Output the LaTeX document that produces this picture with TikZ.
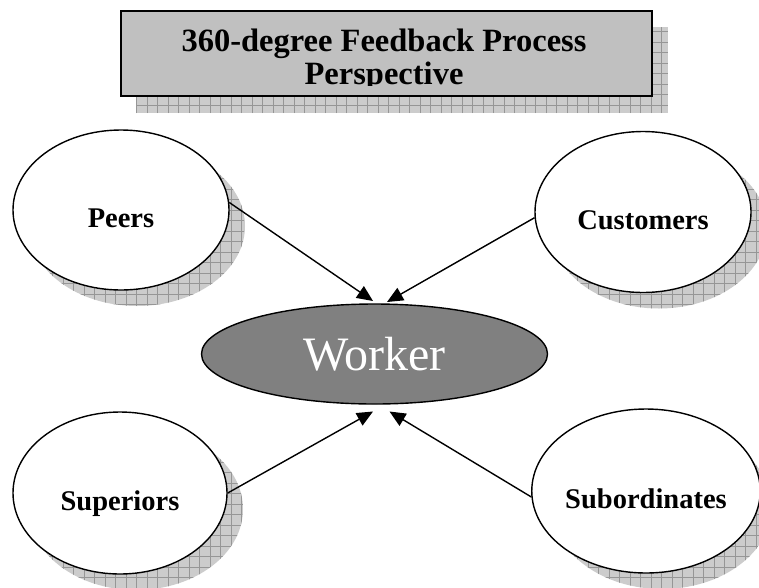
\documentclass[tikz,border=0pt]{standalone}
\usepackage{fontspec}
\setmainfont{Liberation Serif}
\usetikzlibrary{shapes.geometric,arrows.meta}
\definecolor{shadowfill}{RGB}{204,204,204}
\definecolor{gridcol}{RGB}{150,150,150}
\definecolor{titlefill}{RGB}{192,192,192}
\definecolor{workerfill}{RGB}{128,128,128}
\tikzset{
  shadowstyle/.style={fill=shadowfill, path picture={
    \draw[gridcol, line width=0.6pt, step=10.5pt]
      (path picture bounding box.south west) grid (path picture bounding box.north east);}},
  source/.style={ellipse, draw=black, line width=1.4pt, fill=white, inner sep=0pt,
    font=\fontsize{28.5}{31}\selectfont\bfseries},
  workerstyle/.style={ellipse, draw=black, line width=1.4pt, fill=workerfill, inner sep=0pt,
    text=white, font=\fontsize{48}{50}\selectfont, minimum width=346pt, minimum height=100pt},
  titlebox/.style={rectangle, draw=black, line width=2pt, fill=titlefill, inner sep=0pt,
    minimum width=531pt, minimum height=85pt},
  titletextstyle/.style={align=center, inner sep=0pt,
    font=\fontsize{32.5}{33}\selectfont\bfseries},
  feed/.style={draw=black, line width=1.4pt, -{Triangle[length=16pt,width=14pt]}}
}
\newcommand{\lowtext}[1]{\raisebox{-17.5pt}[0pt][0pt]{#1}}
\begin{document}
\begin{tikzpicture}[x=1pt,y=-1pt]
\clip (0,0) rectangle (759,587);
\fill[white] (0,0) rectangle (759,587);
% title
\path[shadowstyle] (136,27) rectangle (668,113);
\node[titlebox] (title) at (386.5,53.5) {};
\begin{scope}
  \clip (121,11) rectangle (652,85.5);
  \node[titletextstyle] (titletext) at (384,60) {360-degree Feedback Process\\Perspective};
\end{scope}
% shadows
\path[shadowstyle] (137,226) ellipse [x radius=108, y radius=80];
\path[shadowstyle] (659,228) ellipse [x radius=108, y radius=80.5];
\path[shadowstyle] (136,509) ellipse [x radius=107, y radius=81];
\path[shadowstyle] (662,507) ellipse [x radius=109.5, y radius=82];
% nodes
\node[source, minimum width=216pt, minimum height=160pt] (peers) at (121,210) {\lowtext{Peers}};
\node[source, minimum width=216pt, minimum height=161pt] (customers) at (643,212) {\lowtext{Customers}};
\node[source, minimum width=214pt, minimum height=162pt] (superiors) at (120,493) {\lowtext{Superiors}};
\node[source, minimum width=219pt, minimum height=164pt] (subordinates) at (646,491) {\lowtext{Subordinates}};
\node[workerstyle] (worker) at (374.5,354) {Worker};
% arrow tips
\coordinate (tipa) at (373,301);
\coordinate (tipb) at (387,302);
\coordinate (tipc) at (373,411.5);
\coordinate (tipd) at (389.5,411.5);
\draw[feed] (peers.4) -- (tipa);
\draw[feed] (customers.183) -- (tipb);
\draw[feed] (superiors.east) -- (tipc);
\draw[feed] (subordinates.183) -- (tipd);
\end{tikzpicture}
\end{document}
